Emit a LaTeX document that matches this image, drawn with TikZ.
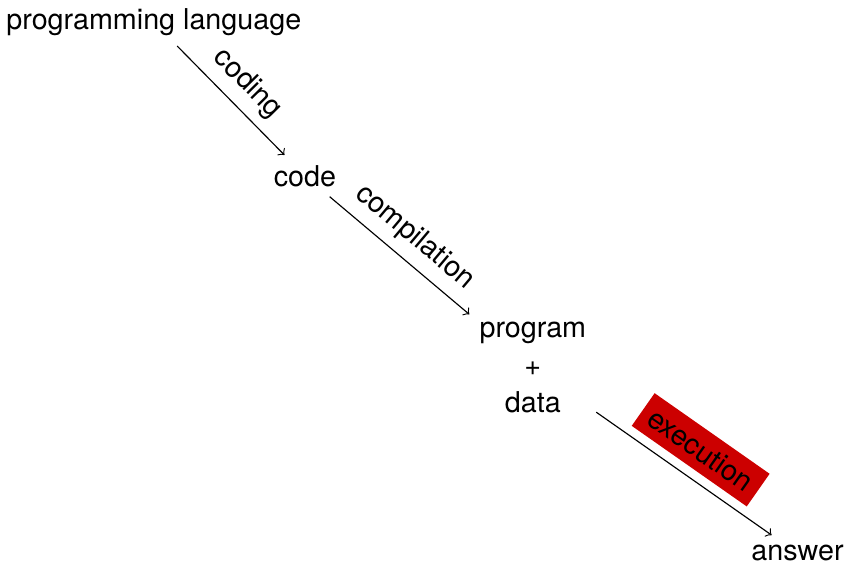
\documentclass[tikz,border=0pt]{standalone}
\usepackage{fontspec}
\setmainfont{TeX Gyre Heros}
\usetikzlibrary{positioning}

\begin{document}
\begin{tikzpicture}[>=to]
            \node (lang) at (0,0) {programming language};
            \node (code) at (1.85,-1.88) {code};
            \node[align=center] (pd) at (4.64,-4.23) {program\\[1.1pt]+\\[1.1pt]data};
            \node (answer) at (7.88,-6.5) {answer};

            % Draw edges
            \draw[->] (lang) -- node[sloped, above] {coding} (code);
            \draw[->] (code) -- node[sloped, above] {compilation} (pd);
            \draw[->] (pd) -- node[sloped, above=3pt, fill=red!80!black] {execution} (answer);

            \pgfresetboundingbox
            \useasboundingbox ([xshift=1.3pt,yshift=-0.5pt]lang.north west) rectangle ([xshift=-2pt,yshift=2pt]answer.south east);
        \end{tikzpicture}
\end{document}
